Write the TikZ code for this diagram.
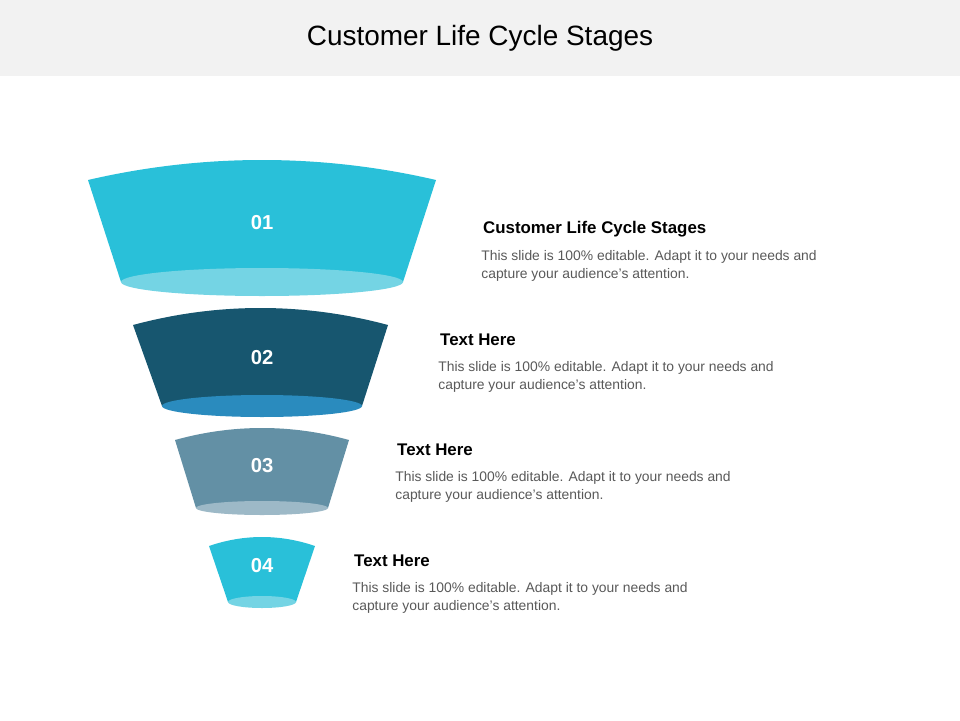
\documentclass[tikz,border=0pt]{standalone}
\usepackage{fontspec}
\setmainfont{Liberation Sans}
\definecolor{cyanA}{HTML}{29C0D9}
\definecolor{cyanL}{HTML}{74D4E4}
\definecolor{navyA}{HTML}{17566F}
\definecolor{navyL}{HTML}{2A8BBE}
\definecolor{slateA}{HTML}{6390A5}
\definecolor{slateL}{HTML}{9DB9C7}
\definecolor{bodygrey}{HTML}{595959}
\definecolor{bandgrey}{HTML}{F2F2F2}
\tikzset{
  num/.style={text=white,font=\bfseries\fontsize{11.5}{13}\selectfont},
  head/.style={anchor=west,text=black,font=\fontsize{9.6}{11}\selectfont\bfseries},
  body/.style={anchor=north west,text=bodygrey,align=left,font=\fontsize{7.9}{10.2}\selectfont,inner sep=0pt}
}
\begin{document}
\begin{tikzpicture}[x=0.02cm,y=-0.02cm]
   \useasboundingbox (0,0) rectangle (960,720);
   \fill[bandgrey] (0,0) rectangle (960,76);
   \node (title) at (480,38) {\fontsize{15.9}{18}\selectfont Customer Life Cycle Stages};

   % left x, right x, top y, peak y, bottom y, bottom half-width, ellipse ry, colours, number
   \foreach \xl/\xr/\yt/\yp/\yb/\rx/\ry/\ca/\cl/\n in {
       88/436/180/160/282/141/14/cyanA/cyanL/01,
       133/388/325/308/406/100/11/navyA/navyL/02,
       175/349/440/428/508/66/7/slateA/slateL/03,
       209/315/546/537/602/34/6/cyanA/cyanL/04}{
     \pgfmathsetmacro{\yc}{(4*\yp-\yt)/3}
     \fill[\ca] (\xl,\yt) .. controls (\xl+0.33*\xr-0.33*\xl,\yc) and (\xr-0.33*\xr+0.33*\xl,\yc) .. (\xr,\yt)
        -- (262+\rx,\yb) -- (262-\rx,\yb) -- cycle;
     \fill[\cl] (262,\yb) ellipse [x radius=\rx,y radius=\ry];
     \node[num] (n\n) at (262,{(\yt+\yb)/2-8}) {\n};
   }

   \node[head] (h1) at (477,229) {Customer Life Cycle Stages};
   \node[body] (b1) at (481,250) {This slide is 100\% editable. Adapt it to your needs and\\capture your audience's attention.};
   \node[head] (h2) at (434,340) {Text Here};
   \node[body] (b2) at (438,361) {This slide is 100\% editable. Adapt it to your needs and\\capture your audience's attention.};
   \node[head] (h3) at (391,450) {Text Here};
   \node[body] (b3) at (395,471) {This slide is 100\% editable. Adapt it to your needs and\\capture your audience's attention.};
   \node[head] (h4) at (348,561) {Text Here};
   \node[body] (b4) at (352,582) {This slide is 100\% editable. Adapt it to your needs and\\capture your audience's attention.};
\end{tikzpicture}
\end{document}
